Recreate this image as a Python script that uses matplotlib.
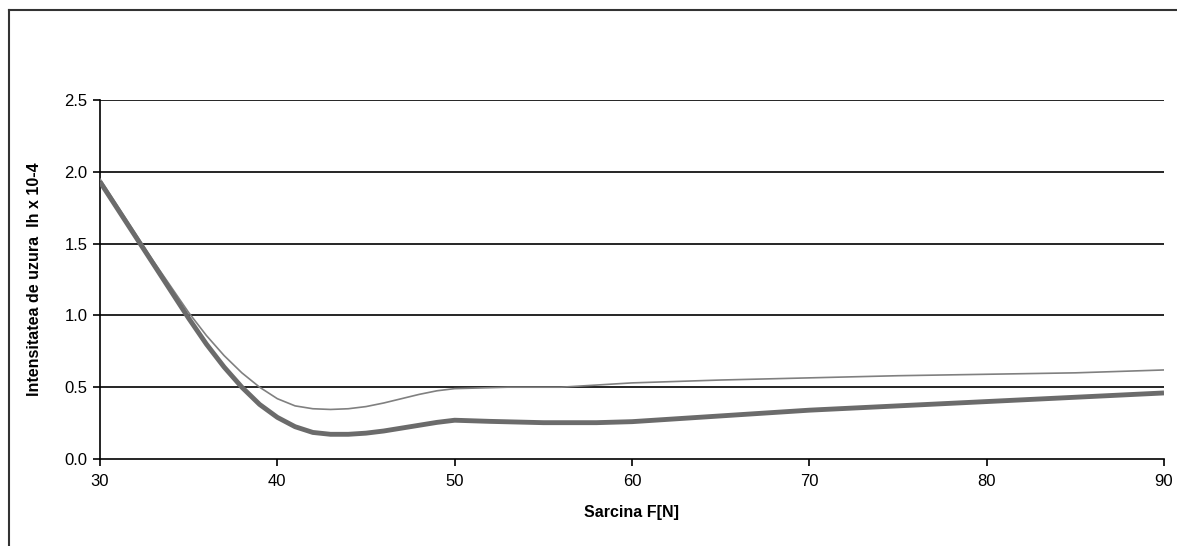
import matplotlib
matplotlib.use("Agg")
import matplotlib.pyplot as plt
from matplotlib.lines import Line2D

# Thick line (lower series)
x_thick = [30, 31, 32, 33, 34, 35, 36, 37, 38, 39, 40, 41, 42, 43, 44, 45, 46, 47, 48, 49, 50, 52, 55, 58, 60, 65, 70, 75, 80, 85, 90]
y_thick = [1.93, 1.74, 1.55, 1.36, 1.17, 0.98, 0.80, 0.64, 0.50, 0.38, 0.29, 0.225, 0.185, 0.172, 0.172, 0.18, 0.195, 0.215, 0.235, 0.255, 0.27, 0.262, 0.253, 0.253, 0.26, 0.30, 0.34, 0.37, 0.40, 0.43, 0.46]

# Thin line (upper series)
x_thin = [30, 31, 32, 33, 34, 35, 36, 37, 38, 39, 40, 41, 42, 43, 44, 45, 46, 47, 48, 49, 50, 53, 56, 60, 65, 70, 75, 80, 85, 90]
y_thin = [1.95, 1.76, 1.57, 1.38, 1.20, 1.02, 0.86, 0.72, 0.60, 0.50, 0.42, 0.37, 0.35, 0.345, 0.35, 0.365, 0.39, 0.42, 0.45, 0.475, 0.49, 0.50, 0.50, 0.53, 0.55, 0.565, 0.58, 0.59, 0.60, 0.62]

y_ticks = [0.0, 0.5, 1.0, 1.5, 2.0, 2.5]
x_ticks = [30, 40, 50, 60, 70, 80, 90]

plt.rcParams['font.family'] = ['Liberation Sans', 'DejaVu Sans']

fig = plt.figure(figsize=(11.77, 5.46), dpi=100)
ax = fig.add_axes([100/1177, 1 - 459/546, 1064/1177, 359/546])

ax.set_xlim(30, 90)
ax.set_ylim(0, 2.5)
ax.set_yticks(y_ticks)
ax.set_yticklabels([f"{v:.1f}" for v in y_ticks])
ax.set_xticks(x_ticks)
for v in y_ticks[1:]:
    ax.axhline(v, color='black', lw=1.2, zorder=1)

ax.plot(x_thin, y_thin, color='#808080', lw=1.2, zorder=3)
ax.plot(x_thick, y_thick, color='#6b6b6b', lw=3.5, zorder=3, solid_capstyle='butt')

for s in ['top', 'right']:
    ax.spines[s].set_visible(False)
for s in ['left', 'bottom']:
    ax.spines[s].set_linewidth(1.2)
    ax.spines[s].set_color('black')

ax.tick_params(axis='y', direction='out', length=5, width=1.2, labelsize=12, pad=4)
ax.tick_params(axis='x', direction='out', length=5, width=1.2, labelsize=12, pad=6)

ax.set_ylabel('Intensitatea de uzura  Ih x 10-4', fontsize=11.5, fontweight='bold', labelpad=16)
ax.set_xlabel('Sarcina F[N]', fontsize=11.5, fontweight='bold', labelpad=11)

bx, by = 8.5/1177, 1 - 9.5/546
fig.add_artist(Line2D([bx, 1.0], [by, by], transform=fig.transFigure, color='#333333', lw=1.5))
fig.add_artist(Line2D([bx, bx], [0.0, by], transform=fig.transFigure, color='#333333', lw=1.5))

fig.savefig('out.png', dpi=100)
